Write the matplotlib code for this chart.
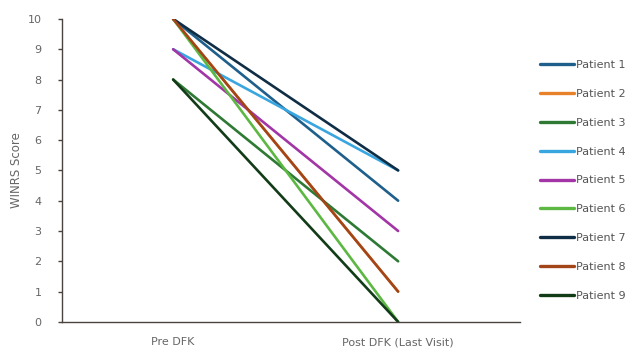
import numpy as np
import matplotlib
matplotlib.use('Agg')
import matplotlib.pyplot as plt

# WINRS score, before DFK and at last visit
visits = ['Pre DFK', 'Post DFK (Last Visit)']
patients = ['Patient %d' % i for i in range(1, 10)]
pre_dfk = [10, 10, 8, 9, 9, 10, 10, 10, 8]
post_dfk = [4, 1, 2, 5, 3, 0, 5, 1, 0]
colors = ['#1f5f8b', '#e8822a', '#2e7a34', '#3aa6df', '#a236a6',
          '#5cb843', '#0f2e45', '#a24619', '#123c18']

fig = plt.figure(figsize=(6.35, 3.51), dpi=100)
ax = fig.add_axes([0.098, 0.083, 0.721, 0.863])

x = np.arange(len(visits))
for i in range(len(patients)):
    ax.plot(x, [pre_dfk[i], post_dfk[i]], '-', color=colors[i], lw=1.9,
            label=patients[i], solid_capstyle='round')

ax.set_xlim(-0.493, 1.542)
ax.set_ylim(0, 10)
ax.set_xticks(x)
ax.set_xticklabels(visits)
ax.set_yticks(np.arange(0, 11, 1))
ax.set_ylabel('WINRS Score', fontsize=8.5, color='#666666', labelpad=3)

for s in ['top', 'right']:
    ax.spines[s].set_visible(False)
for s in ['left', 'bottom']:
    ax.spines[s].set_color('#4a4440')
    ax.spines[s].set_linewidth(1.0)
ax.tick_params(axis='y', length=3, width=1, color='#4a4440', labelsize=8,
               labelcolor='#666666', pad=12)
ax.tick_params(axis='x', length=0, labelsize=8, labelcolor='#666666', pad=11)

leg = fig.legend(loc='center left', bbox_to_anchor=(0.835, 0.486), frameon=False,
                 fontsize=8, handlelength=3.0, handletextpad=0.2,
                 labelspacing=1.7)
for t in leg.get_texts():
    t.set_color('#555555')
for h in leg.get_lines():
    h.set_linewidth(2.4)

fig.savefig('out.png', dpi=100)
